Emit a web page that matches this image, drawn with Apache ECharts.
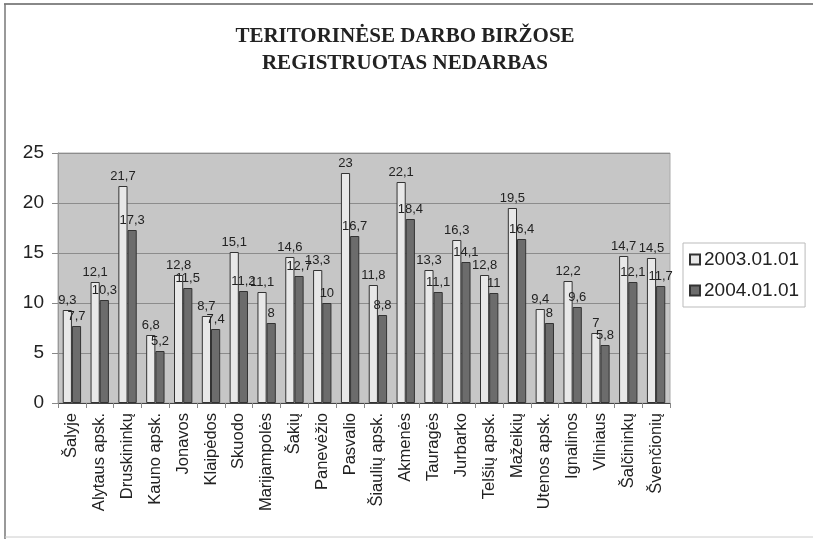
<!DOCTYPE html>
<html lang="lt">

<head>
    <meta charset="UTF-8">
    <title>Registruotas nedarbas</title>
    <script src="https://cdnjs.cloudflare.com/ajax/libs/echarts/6.0.0/echarts.min.js"></script>
</head>

<body style="margin:0;background:#fff;">
    <div id="main" style="width: 813px;height:539px;"></div>

    <script>
        // duomenys
        const categories = ["Šalyje", "Alytaus apsk.", "Druskininkų", "Kauno apsk.", "Jonavos", "Klaipėdos",
            "Skuodo", "Marijampolės", "Šakių", "Panevėžio", "Pasvalio", "Šiaulių apsk.", "Akmenės",
            "Tauragės", "Jurbarko", "Telšių apsk.", "Mažeikių", "Utenos apsk.", "Ignalinos", "Vilniaus",
            "Šalčininkų", "Švenčionių"];
        const series2003 = [9.3, 12.1, 21.7, 6.8, 12.8, 8.7, 15.1, 11.1, 14.6, 13.3, 23, 11.8, 22.1,
            13.3, 16.3, 12.8, 19.5, 9.4, 12.2, 7, 14.7, 14.5];
        const series2004 = [7.7, 10.3, 17.3, 5.2, 11.5, 7.4, 11.2, 8, 12.7, 10, 16.7, 8.8, 18.4,
            11.1, 14.1, 11, 16.4, 8, 9.6, 5.8, 12.1, 11.7];
        const legendNames = ["2003.01.01", "2004.01.01"];
        const yTicks = [0, 5, 10, 15, 20, 25];

        const myChart = echarts.init(document.getElementById('main'));

        // kablelis vietoj taško
        const comma = (p) => String(p.value).replace('.', ',');

        const labelStyle = {
            show: true,
            position: 'top',
            distance: 3,
            fontFamily: 'Liberation Sans',
            fontSize: 13,
            color: '#222',
            formatter: comma
        };

        let option = {
            backgroundColor: '#fff',
            animation: false,
            title: {
                text: 'TERITORINĖSE DARBO BIRŽOSE\nREGISTRUOTAS NEDARBAS',
                left: 400,
                textAlign: 'center',
                top: 18,
                textStyle: {
                    fontFamily: 'Liberation Serif',
                    fontWeight: 'bold',
                    fontSize: 21,
                    lineHeight: 27,
                    color: '#222'
                }
            },
            legend: {
                data: legendNames,
                orient: 'vertical',
                left: 683,
                top: 243,
                width: 128,
                padding: [7, 6, 7, 6],
                itemGap: 12,
                itemWidth: 10,
                itemHeight: 10,
                icon: 'rect',
                backgroundColor: '#fff',
                borderColor: '#bbb',
                borderWidth: 1,
                textStyle: {
                    fontFamily: 'Liberation Sans',
                    fontSize: 19,
                    color: '#222',
                    padding: [0, 0, 0, -1]
                }
            },
            grid: {
                left: 58,
                right: 143,
                top: 153,
                bottom: 136,
                show: true,
                backgroundColor: '#c6c6c6',
                borderColor: '#aaa',
                borderWidth: 1
            },
            xAxis: {
                type: 'category',
                data: categories,
                axisLine: { lineStyle: { color: '#444' } },
                axisTick: { show: true, length: 5, lineStyle: { color: '#888' } },
                axisLabel: {
                    rotate: 90,
                    interval: 0,
                    margin: 10,
                    fontFamily: 'Liberation Sans',
                    fontSize: 16.5,
                    color: '#222'
                }
            },
            yAxis: {
                type: 'value',
                min: yTicks[0],
                max: yTicks[yTicks.length - 1],
                interval: 5,
                axisLine: { show: true, lineStyle: { color: '#999' } },
                axisTick: { show: true, length: 6, lineStyle: { color: '#888' } },
                splitLine: { lineStyle: { color: '#8c8c8c', width: 1 } },
                axisLabel: {
                    margin: 14,
                    fontFamily: 'Liberation Sans',
                    fontSize: 19,
                    color: '#222'
                }
            },
            series: [
                {
                    name: legendNames[0],
                    type: 'bar',
                    data: series2003,
                    barGap: '0%',
                    barCategoryGap: '34%',
                    itemStyle: { color: '#e8e8e8', borderColor: '#333', borderWidth: 1 },
                    label: labelStyle
                },
                {
                    name: legendNames[1],
                    type: 'bar',
                    data: series2004,
                    itemStyle: { color: '#6c6c6c', borderColor: '#333', borderWidth: 1 },
                    label: labelStyle
                }
            ],
            graphic: [
                // rėmelis
                { type: 'line', shape: { x1: 4, y1: 4, x2: 813, y2: 4 }, style: { stroke: '#888', lineWidth: 2 } },
                { type: 'line', shape: { x1: 5, y1: 4, x2: 5, y2: 539 }, style: { stroke: '#777', lineWidth: 1.5 } },
                { type: 'line', shape: { x1: 5, y1: 537, x2: 813, y2: 537 }, style: { stroke: '#ccc', lineWidth: 1 } }
            ]
        };

        myChart.setOption(option);
    </script>
</body>

</html>
